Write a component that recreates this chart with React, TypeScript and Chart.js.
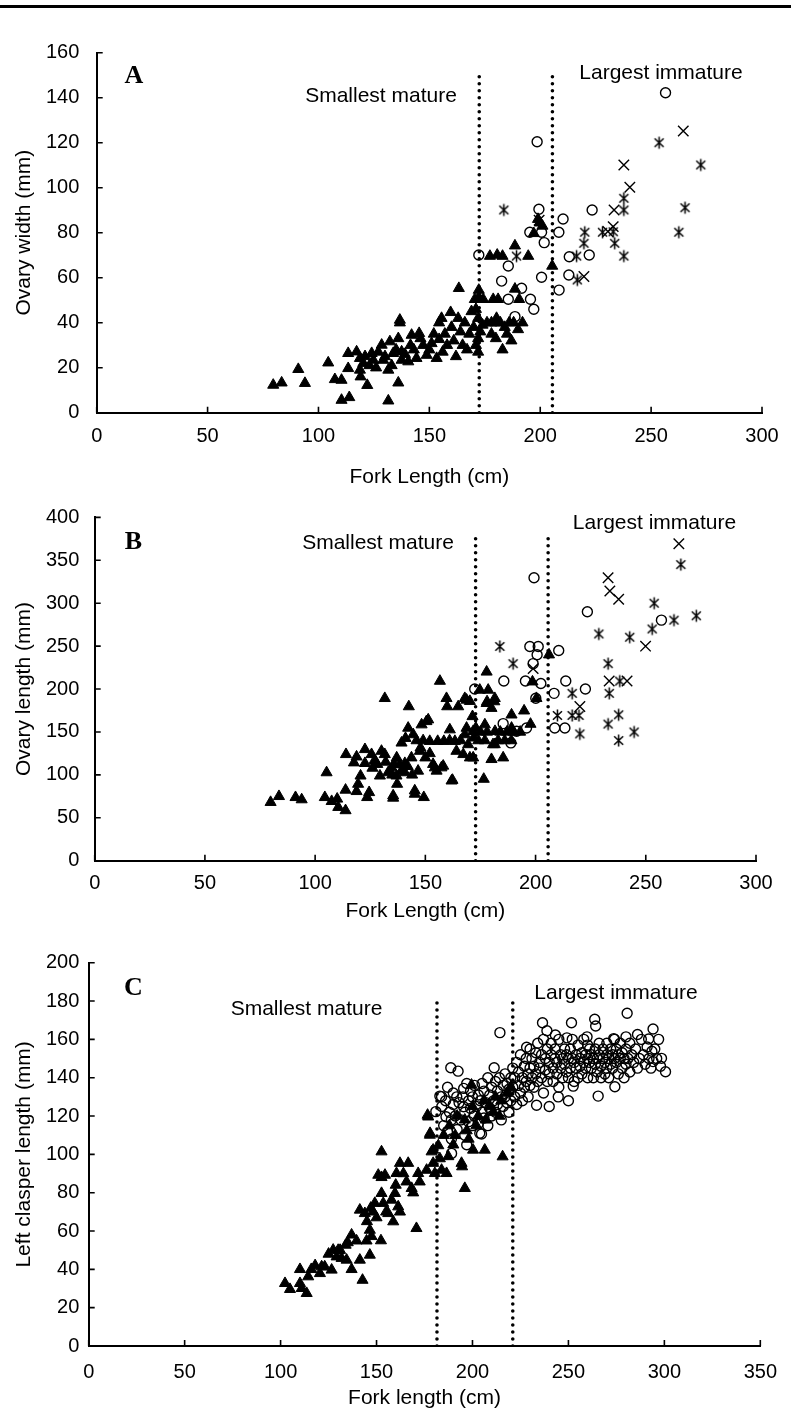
import React, { useEffect, useRef } from "react";
import { Chart, registerables } from "chart.js";
Chart.register(...registerables);

type P = [number, number];

// ---------- Panel A: ovary width vs fork length ----------
const aTriangles: P[] = [
  [79.6,12.3],[83.4,13.3],[90.9,19.3],[93.9,13.1],[104.4,22.2],[107.4,14.8],[110.4,14.5],[110.4,5.6],[113.9,6.8],
  [113.4,26.4],[113.4,19.7],[117.2,27.1],[118.7,24.2],[118.7,19],[119,16],[120.2,22],[122,12.2],[124,26.4],
  [124.7,23.4],[128.5,30.1],[129.2,23.4],[131.5,19],[131.5,5.3],[132.2,31.6],[133.7,26.4],[136,13.3],[136.7,40],
  [136,33],[137.5,27.1],[137.5,23.4],[140.5,22.7],[141.5,30],[142,34.5],[145.4,35.3],[144.2,24.2],[147.2,30],
  [148.8,25.6],[151,30.8],[153.3,24.2],[154.4,40],[154.4,32.6],[121,25],[123,21],[126,20],[127,27],[130,25],
  [133,21],[135,28],[139,26],[143,28],[146,33],[150,28],[152,35],
  [156,27],[157,35],[158,30],[160,38],[161,32],[162,25],[163,42],[164,36],[165,30],[166,40],[167,28],[168,35],
  [169,45],[170,38],[171,30],[172,42],[172,33],[172,27],[173,36],[174,39],[176,40],[178,40],[180,40],[182,40],
  [184,38],[186,40],[188,40],[190,37],[192,40],[178,35],[180,33],[183,28],[185,35],[187,32],
  [199.8,84.4],[197.1,79.7],[188.6,74.2],[177.3,69.6],[180.6,70.1],[183,69.6],[194.6,69.6],[205.4,65.2],
  [163.3,55.3],[172.3,54.5],[188.6,55],[172.3,51.3],[170.5,50.4],[174.3,50.4],[178.8,50.4],[181,50.4],
  [190.5,50.4],[171,46],[159.6,44.6],[136.7,41.2],[155.5,42],[180.3,42],[199,86],[201,83]
];
const aCircles: P[] = [
  [256.5,142.2],[198.6,120.4],[223.4,90.1],[199.4,90.4],[210.3,86.1],[195.3,80.2],[200.6,80.2],[208.4,80.2],
  [201.8,75.6],[172.3,70.1],[185.6,65.2],[213.1,69.3],[222.1,70.1],[182.6,58.5],[200.6,60.2],[212.9,61.2],
  [191.6,55.3],[208.5,54.5],[185.6,50.4],[195.6,50.4],[197.1,46],[188.6,42.7]
];
const aCrosses: P[] = [
  [264.5,125.2],[237.7,110.1],[240.4,100.2],[233.3,90.1],[232.9,82.7],[219.7,60.5],[230.5,80.5],[199.5,85.5]
];
const aStars: P[] = [
  [253.6,120],[272.4,110.1],[265.3,91.1],[262.5,80.2],[237.7,90.1],[183.6,90.1],[220.1,80.2],[228.1,80.2],
  [232.9,80.4],[233.6,75.3],[219.7,75.3],[237.7,69.6],[216.4,69.6],[216.7,59],[189.3,69.6],[237.7,95.3]
];
const aCutoffs = [172.5, 205.5];
const aCutoffTop = 150;
const aXTicks = [0, 50, 100, 150, 200, 250, 300];
const aYTicks = [0, 20, 40, 60, 80, 100, 120, 140, 160];

// ---------- Panel B: ovary length vs fork length ----------
const bTriangles: P[] = [
  [79.8,68.1],[83.6,75],[91.1,73.8],[93.9,71.2],[104.4,73.8],[105.2,102.7],[107.5,69.2],[110,72],[110.5,62.3],
  [113.8,58.5],[113.8,82.4],[114,123.9],[117.6,114.2],[118.8,121.1],[118.8,80.8],[119.5,89.3],[120.6,98.9],
  [122.6,129.7],[122.6,113.5],[123.6,73.8],[124.5,79.6],[125.6,123.9],[128.2,112.4],[129.4,98.9],[130.1,127.7],
  [131.6,189.2],[131.6,123.9],[133.1,102.7],[134.7,108.4],[135.4,73.1],[136.9,98.9],[137.2,89.3],[138.4,112.4],
  [139.1,104.7],[140.7,102.7],[140.7,113.5],[142.2,154.6],[142.5,179.6],[143.7,120],[139.2,137.3],[141,142.7],
  [144.5,147],[145.2,81.6],[146.7,104.6],[147.8,131.5],[148.3,158.5],[149.3,73.8],[151.3,164.3],[152,139.2],
  [153.5,112.4],[155.1,104.6],[155.6,139.2],[156.6,209.3],[158.1,110.4],[158.4,139.2],[159.6,189.2],[159.9,179.6],
  [161.1,152.7],[162.3,93.9],[163.4,139.2],[164.1,127.7],[164.9,179.6],[167.2,123.9],[167.9,189.2],[168.7,154.6],
  [169.4,135.4],[170.2,120],[170.2,185.8],[171.4,168.1],[171.7,150.8],[171.9,143.2],[172.9,154.6],[176.5,95.1],
  [177,158.5],[177.8,220],[178.5,198.9],[178,185.4],[180,118.1],[180.7,135.4],[181.3,185.4],[181.6,150.8],
  [168.7,187.3],[174.7,198.9],[181.5,189.2],[177.8,183.4],[180,177.7],[189.1,170],[194.8,174.7],[197.7,159.2],
  [198.6,208.5],[200.4,189.2],[206.1,240],[189.1,154.6],[181.5,135.4],[185.3,120],[161.9,93.1],[171.7,120],
  [167.9,147],[150.5,162.3],[147.5,127.7],[154.3,108.4],[157.3,108.4],[145.2,77.7],[135.4,75.8],
  [146,140],[149,140],[161,140],[166,140],[174,140],[177,140],[183,140],[186,140],[189,140],
  [175,150],[178,150],[184,150],[187,150],[190,150],[193,150],
  [126,108],[127,117],[132,115],[135,100],[136,112],[137,120],[142,110],[144,100],[150,120],[152,125]
];
const bCircles: P[] = [
  [199.3,329.6],[223.5,290],[257.1,280.3],[197.4,249.6],[201.2,249.6],[210.5,245],[200.7,240],[198.9,229.6],
  [185.6,209.3],[195.4,209.3],[202.4,206.5],[213.7,209.3],[222.6,200],[208.4,195],[172.4,200],[200.1,189.2],
  [185.3,159.7],[188.8,137.3],[191.4,150.8],[195.9,154.6],[208.7,154.6],[213.3,154.6]
];
const bCrosses: P[] = [
  [265,369.2],[232.9,329.6],[233.7,314.3],[237.7,304.6],[249.9,250],[233.4,209.3],[241.5,209.3],[220.1,179.6],[198.9,223.8]
];
const bStars: P[] = [
  [265.9,345],[253.8,300],[262.8,280.3],[272.9,285.4],[252.9,270],[228.7,264.2],[242.7,260.4],[183.8,249.6],
  [189.8,229.6],[232.9,229.6],[238.2,209.3],[216.6,195],[233.4,195],[209.9,169.2],[216.6,169.2],[219.7,169.2],
  [237.7,170],[232.9,159.2],[220.1,147.7],[244.7,150],[237.7,140]
];
const bCutoffs = [172.8, 205.7];
const bCutoffTop = 378;
const bXTicks = [0, 50, 100, 150, 200, 250, 300];
const bYTicks = [0, 50, 100, 150, 200, 250, 300, 350, 400];

// ---------- Panel C: left clasper length vs fork length ----------
const cTriangles: P[] = [
  [102.3,32.7],[104.9,29.6],[110.1,40],[110.1,32.7],[111,30.1],[113.6,27.5],[114.4,36.2],[120.5,37.9],[121.4,41.4],
  [123,41.4],[126.6,39.7],[127.4,50.1],[130,50],[129.2,46.6],[131.8,45.8],[133.9,52.7],[134.4,44.9],[137,40],
  [139.6,54.9],[141.3,44.9],[142.7,34.4],[144.8,54.9],[146.5,60.5],[146.5,47.5],[147.4,57.2],[152.3,55],[141.3,71],
  [143.9,69.2],[148.2,70],[149.1,74.5],[150.9,89.2],[152.6,88],[152.6,101.4],[152.6,79.7],[153.5,74.5],[154.4,89.2],
  [156.1,69.2],[157.8,76.2],[158.7,64.9],[159.6,79.7],[160.4,90.1],[161.3,72.7],[162.2,95.4],[162.2,70],[165.6,85.7],
  [166.5,95.4],[168.3,82.3],[169.1,80],[170.8,61.4],[171.7,90.1],[172.5,85.7],[176.1,91.8],[176.9,119.6],[177.8,110.1],
  [178.7,101.4],[179.5,95.4],[180.4,90.1],[182.2,104.6],[183,97.8],[183.9,91.8],[186.5,90.1],[187.4,98.9],[191,109.9],
  [194.3,95.4],[196,82.3],[197,112.4],[200.3,102.3],[206.4,102.3],[176.6,120.5],[177.9,111],[179.5,102.3],[215.7,98.8],
  [194.6,93.6],[199.5,136.2],[188,115],[192,120],[196,118],[200,125],[203,120],[206,128],[209,125],[212,130],
  [215,128],[218,132],[190,105],[185,110],[198,108],[202,115],[207,118],[211,122],[220,135],[214,120],[160,84],
  [164,90],[147,72],[145,65],[137,58],[135,54],[125,48],[118,42],[116,40],[131,50],[150,67],[155,70]
];
const cCircles: P[] = [
  [214.3,163.5],[188.7,145.2],[192.5,143.4],[211.3,145.2],[183.9,130.1],[180.9,122.3],[186.2,119.6],[191.8,130],
  [195.4,134.4],[195.4,124.8],[203.8,111],[189.1,100.5],[280.6,173.6],[236.5,168.7],[251.6,168.7],[263.7,170.5],
  [264.2,167],[294.1,165.4],[238.8,164.5],[243.2,162.3],[228.2,155.9],[249.2,160.8],[259.7,161.3],[273.6,160.4],
  [280,161.3],[286,162.5],[291.8,160.2],[293.5,153.8],[298.5,150.1],[300.6,143.1],[294.1,148.4],[265.5,130.4],
  [274.2,135.3],[252.5,135.6],[244.7,130],[233.4,125.6],[183,130.4],[204.7,110.6],
  [184,125],[185,115],[186,128],[187,112],[188,122],[189,118],[190,126],[187,135],[189,108],[190,132],
  [191,120],[192,113],[193,127],[194,118],[195,130],[196,110],[196,122],[197,137],[198,117],[198,128],[199,124],
  [199,133],[200,115],[200,130],[197,105],
  [201,120],[201,136],[202,125],[203,131],[203,116],[204,128],[205,137],[205,122],[206,119],[206,133],[207,127],
  [208,140],[208,115],[209,124],[209,131],[210,135],[210,120],
  [211,128],[212,138],[212,122],[213,133],[213,126],[214,140],[215,118],[215,130],[216,136],[216,125],[217,142],
  [217,130],[218,127],[218,137],[219,122],[219,134],[220,140],[220,128],
  [221,135],[221,145],[222,130],[222,140],[223,126],[223,148],[224,136],[224,143],[225,132],[225,152],[226,140],
  [226,128],[227,146],[227,135],[228,150],[228,138],[229,142],[229,130],[230,155],[230,145],[230,136],
  [231,140],[231,150],[232,146],[232,135],[233,153],[233,142],[234,158],[234,138],[235,148],[235,145],[236,152],
  [236,140],[237,160],[237,132],[238,150],[238,144],[239,155],[239,138],[240,148],[240,142],[240,125],
  [241,152],[241,158],[242,145],[242,138],[243,150],[243,155],[244,148],[244,142],[245,160],[245,135],[246,152],
  [246,145],[247,140],[247,150],[248,155],[248,147],[249,143],[249,152],[250,150],[250,140],[250,128],
  [251,155],[251,145],[252,150],[252,160],[253,148],[253,138],[254,152],[254,145],[255,140],[255,157],[256,150],
  [256,146],[257,153],[257,142],[258,148],[258,160],[259,145],[259,152],[260,150],[260,140],[260,157],
  [261,148],[261,155],[262,145],[262,152],[263,150],[263,140],[264,147],[264,155],[265,143],[265,150],[266,152],
  [266,158],[267,146],[267,140],[268,150],[268,155],[269,148],[269,142],[270,152],[270,145],[270,158],
  [271,150],[271,140],[272,155],[272,147],[273,152],[273,145],[274,160],[274,150],[275,148],[275,155],[276,142],
  [276,152],[277,150],[277,158],[278,145],[278,153],[279,150],[279,140],[280,155],[280,147],
  [281,150],[282,158],[282,143],[283,152],[284,148],[285,155],[286,145],[287,150],[288,160],[289,152],[290,147],
  [291,156],[292,150],[293,145],[295,155],[296,150],[297,160],[298,146]
];
const cCrosses: P[] = [];
const cStars: P[] = [];
const cCutoffs = [181.5, 221];
const cCutoffTop = 180;
const cXTicks = [0, 50, 100, 150, 200, 250, 300, 350];
const cYTicks = [0, 20, 40, 60, 80, 100, 120, 140, 160, 180, 200];

// ---------- layout / style ----------
const SANS = '"Liberation Sans", Arial, Helvetica, sans-serif';
const TEXT_FONT = '21px "Liberation Sans", Arial, Helvetica, sans-serif';
const LETTER_FONT = 'bold 26px "Liberation Serif", "Times New Roman", serif';
const PAGE_W = 791;

interface Txt { text: string; x: number; y: number; font: string }
interface PanelCfg {
  top: number; height: number;
  area: { left: number; right: number; top: number; bottom: number };
  xMax: number; yMax: number; xTicks: number[]; yTicks: number[];
  xTitle: string; yTitle: string;
  triangles: P[]; circles: P[]; crosses: P[]; stars: P[];
  cutoffs: number[]; cutoffTop: number;
  xLabelPad: number; xTitlePadBottom: number;
  texts: Txt[];
}

const panels: PanelCfg[] = [
  {
    top: 0, height: 490,
    area: { left: 96.7, right: 762, top: 52.7, bottom: 412.7 },
    xMax: 300, yMax: 160, xTicks: aXTicks, yTicks: aYTicks,
    xTitle: "Fork Length (cm)", yTitle: "Ovary width (mm)",
    triangles: aTriangles, circles: aCircles, crosses: aCrosses, stars: aStars,
    cutoffs: aCutoffs, cutoffTop: aCutoffTop, xLabelPad: 12, xTitlePadBottom: 0,
    texts: [
      { text: "A", x: 134, y: 76, font: LETTER_FONT },
      { text: "Smallest mature", x: 381, y: 96, font: TEXT_FONT },
      { text: "Largest immature", x: 661, y: 73, font: TEXT_FONT },
    ],
  },
  {
    top: 490, height: 450,
    area: { left: 94.7, right: 756, top: 24, bottom: 370.7 },
    xMax: 300, yMax: 400, xTicks: bXTicks, yTicks: bYTicks,
    xTitle: "Fork Length (cm)", yTitle: "Ovary length (mm)",
    triangles: bTriangles, circles: bCircles, crosses: bCrosses, stars: bStars,
    cutoffs: bCutoffs, cutoffTop: bCutoffTop, xLabelPad: 11, xTitlePadBottom: 16,
    texts: [
      { text: "B", x: 133.5, y: 542.5, font: LETTER_FONT },
      { text: "Smallest mature", x: 378, y: 543, font: TEXT_FONT },
      { text: "Largest immature", x: 654.5, y: 523, font: TEXT_FONT },
    ],
  },
  {
    top: 940, height: 476,
    area: { left: 88.7, right: 760.6, top: 22.7, bottom: 406 },
    xMax: 350, yMax: 200, xTicks: cXTicks, yTicks: cYTicks,
    xTitle: "Fork length (cm)", yTitle: "Left clasper length (mm)",
    triangles: cTriangles, circles: cCircles, crosses: cCrosses, stars: cStars,
    cutoffs: cCutoffs, cutoffTop: cCutoffTop, xLabelPad: 14, xTitlePadBottom: 5,
    texts: [
      { text: "C", x: 133.5, y: 988, font: LETTER_FONT },
      { text: "Smallest mature", x: 306.5, y: 1009, font: TEXT_FONT },
      { text: "Largest immature", x: 616, y: 993, font: TEXT_FONT },
    ],
  },
];

function makeStar(): HTMLCanvasElement {
  const c = document.createElement("canvas");
  c.width = 15; c.height = 15;
  const g = c.getContext("2d")!;
  g.strokeStyle = "#000";
  g.lineWidth = 1.5;
  g.beginPath();
  g.moveTo(3, 3.2); g.lineTo(12, 11.8);
  g.moveTo(12, 3.2); g.lineTo(3, 11.8);
  g.moveTo(7.5, 1.5); g.lineTo(7.5, 13.5);
  g.stroke();
  return c;
}

function Panel({ cfg }: { cfg: PanelCfg }) {
  const ref = useRef<HTMLCanvasElement>(null);
  useEffect(() => {
    const canvas = ref.current!;
    const star = makeStar();
    const xy = (pts: P[]) => pts.map(([x, y]) => ({ x, y }));
    const datasets: any[] = [
      ...cfg.cutoffs.map((c) => ({
        data: [{ x: c, y: 0 }, { x: c, y: cfg.cutoffTop }],
        showLine: true, borderColor: "#000", borderWidth: 3.6, borderDash: [0, 7],
        borderCapStyle: "round", pointRadius: 0, fill: false,
      })),
      {
        data: xy(cfg.triangles), pointStyle: "triangle", pointRadius: 6.4,
        pointBackgroundColor: "#000", pointBorderColor: "#000", pointBorderWidth: 1,
      },
      {
        data: xy(cfg.circles), pointStyle: "circle", pointRadius: 5,
        pointBackgroundColor: "rgba(0,0,0,0)", pointBorderColor: "#000", pointBorderWidth: 1.4,
      },
      {
        data: xy(cfg.crosses), pointStyle: "crossRot", pointRadius: 7.4,
        pointBorderColor: "#000", pointBorderWidth: 1.4,
      },
      { data: xy(cfg.stars), pointStyle: star, pointRadius: 5, pointBorderColor: "#000" },
    ];
    const deco = {
      id: "deco",
      afterDraw(chart: any) {
        const { ctx, chartArea: a } = chart;
        const xs = chart.scales.x, ys = chart.scales.y;
        ctx.save();
        ctx.strokeStyle = "#000";
        ctx.lineWidth = 1.6;
        ctx.beginPath();
        for (const v of cfg.xTicks) {
          const px = xs.getPixelForValue(v);
          ctx.moveTo(px, a.bottom); ctx.lineTo(px, a.bottom - 6);
        }
        for (const v of cfg.yTicks) {
          const py = ys.getPixelForValue(v);
          ctx.moveTo(a.left, py); ctx.lineTo(a.left + 6, py);
        }
        ctx.stroke();
        ctx.fillStyle = "#000";
        ctx.textAlign = "center";
        ctx.textBaseline = "middle";
        for (const t of cfg.texts) {
          ctx.font = t.font;
          ctx.fillText(t.text, t.x, t.y - cfg.top);
        }
        ctx.restore();
      },
    };
    const chart = new Chart(canvas, {
      type: "scatter",
      data: { datasets },
      options: {
        responsive: false,
        animation: false,
        events: [],
        layout: { padding: { left: 0, top: cfg.area.top, right: PAGE_W - cfg.area.right, bottom: 0 } },
        plugins: { legend: { display: false }, tooltip: { enabled: false } },
        scales: {
          x: {
            type: "linear", min: 0, max: cfg.xMax,
            grid: { display: false, drawTicks: false },
            border: { display: true, color: "#000", width: 2 },
            ticks: { color: "#000", font: { family: SANS, size: 20 }, padding: cfg.xLabelPad, maxRotation: 0, autoSkip: false },
            title: { display: true, text: cfg.xTitle, color: "#000", font: { family: SANS, size: 21 }, padding: { top: 0, bottom: cfg.xTitlePadBottom } },
            afterBuildTicks: (s: any) => { s.ticks = cfg.xTicks.map((v) => ({ value: v })); },
            afterFit: (s: any) => { s.height = cfg.height - cfg.area.bottom; },
          },
          y: {
            type: "linear", min: 0, max: cfg.yMax,
            grid: { display: false, drawTicks: false },
            border: { display: true, color: "#000", width: 2 },
            ticks: { color: "#000", font: { family: SANS, size: 20 }, padding: cfg.area.left - 79.3, autoSkip: false },
            title: { display: true, text: cfg.yTitle, color: "#000", font: { family: SANS, size: 21 }, padding: { top: 11.4, bottom: 0 } },
            afterBuildTicks: (s: any) => { s.ticks = cfg.yTicks.map((v) => ({ value: v })); },
            afterFit: (s: any) => { s.width = cfg.area.left; },
          },
        },
      } as any,
      plugins: [deco],
    });
    return () => chart.destroy();
  }, [cfg]);
  return (
    <canvas
      ref={ref}
      width={PAGE_W}
      height={cfg.height}
      style={{ position: "absolute", left: 0, top: cfg.top, width: PAGE_W, height: cfg.height, display: "block" }}
    />
  );
}

export default function App() {
  return (
    <div style={{ position: "absolute", left: 0, top: 0, width: PAGE_W, height: 1416, background: "#fff", overflow: "hidden" }}>
      <div style={{ position: "absolute", left: 0, top: 5, width: PAGE_W, height: 3, background: "#000" }} />
      {panels.map((p, i) => (
        <Panel key={i} cfg={p} />
      ))}
    </div>
  );
}
